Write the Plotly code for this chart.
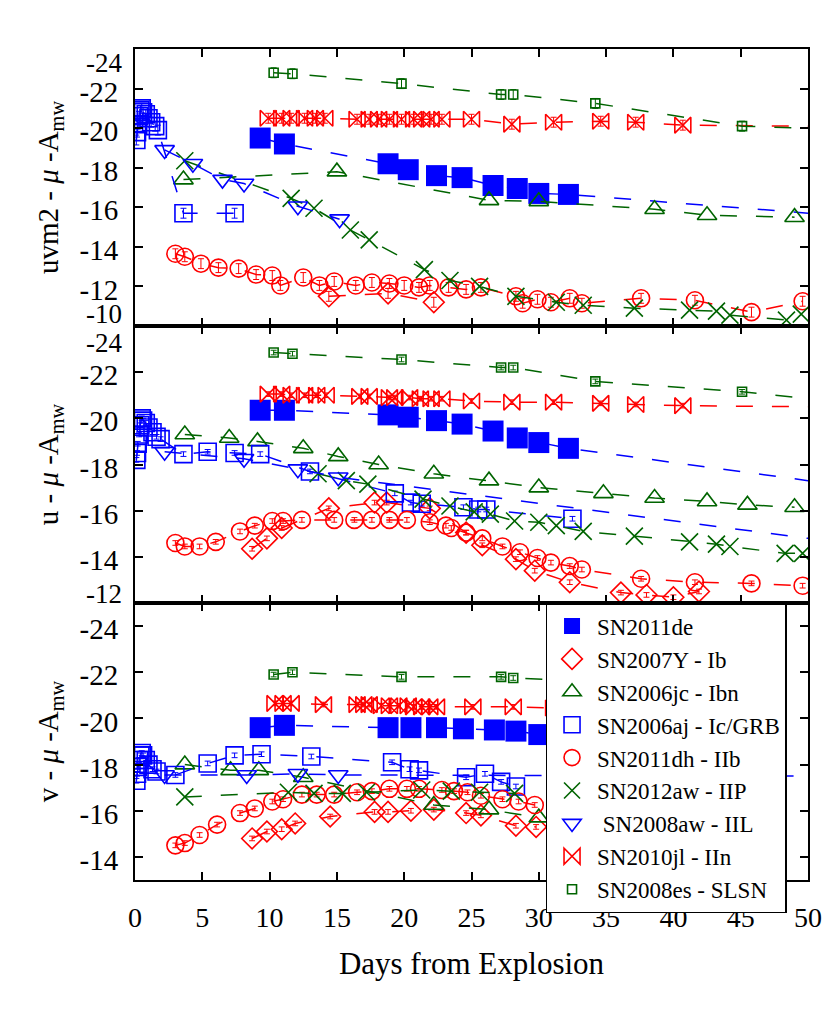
import plotly.graph_objects as go
from plotly.subplots import make_subplots

# ================= DATA =================
# ---- uvm2 band (top panel) ----
de_day_uvm2 = [9.3, 11.1, 18.8, 20.3, 22.4, 24.3, 26.6, 28.4, 30.0, 32.2]
de_mag_uvm2 = [-19.5, -19.2, -18.2, -17.9, -17.6, -17.5, -17.1, -16.95, -16.7, -16.65]
de_extday_uvm2 = [50.0]
de_extmag_uvm2 = [-15.7]

es_day_uvm2 = [10.3, 11.7, 19.8, 27.2, 28.1, 34.2, 45.1]
es_mag_uvm2 = [-22.8, -22.75, -22.25, -21.7, -21.7, -21.25, -20.1]
es_extday_uvm2 = [50.0]
es_extmag_uvm2 = [-20.0]

jl_day_uvm2 = [9.9, 10.9, 11.6, 12.6, 13.4, 14.1, 16.5, 17.4, 18.1, 18.9, 19.8, 20.7,
               21.3, 22.0, 22.8, 25.0, 28.0, 31.1, 34.6, 37.2, 40.7]
jl_mag_uvm2 = [-20.5, -20.5, -20.5, -20.5, -20.5, -20.5, -20.45, -20.45, -20.45, -20.45,
               -20.45, -20.45, -20.45, -20.45, -20.45, -20.45, -20.2, -20.3, -20.35, -20.3, -20.15]
jl_extday_uvm2 = [50.0]
jl_extmag_uvm2 = [-20.1]

jc_day_uvm2 = [3.6, 15.0, 26.3, 30.0, 38.6, 42.5, 49.0]
jc_mag_uvm2 = [-17.4, -17.8, -16.35, -16.3, -15.9, -15.6, -15.5]

aj_day_uvm2 = [0.1, 0.15, 0.2, 0.3, 0.4, 0.5, 0.6, 0.8, 1.0, 1.2, 1.5, 1.7, 3.6, 7.4]
aj_mag_uvm2 = [-19.4, -19.8, -20.2, -20.6, -20.9, -21.0, -20.8, -20.7, -20.5, -20.3, -20.1,
               -19.9, -15.7, -15.7]

aw8_day_uvm2 = [2.2, 4.3, 6.5, 8.1, 12.1, 15.2]
aw8_mag_uvm2 = [-18.9, -18.2, -17.4, -17.2, -16.05, -15.4]

aw12_day_uvm2 = [3.7, 11.6, 13.3, 16.0, 17.4, 21.5, 23.4, 25.6, 28.3, 31.3, 33.3, 37.1,
                 41.2, 43.2, 44.2, 48.4, 49.5]
aw12_mag_uvm2 = [-18.35, -16.45, -15.95, -14.85, -14.35, -12.85, -12.3, -12.0, -11.5,
                 -11.2, -11.05, -10.9, -10.8, -10.75, -10.55, -10.3, -10.6]

dh_day_uvm2 = [3.0, 3.7, 4.9, 6.2, 7.7, 9.0, 10.2, 10.8, 12.5, 13.7, 14.8, 16.4, 17.6, 18.9,
               20.0, 21.1, 21.9, 23.3, 24.6, 25.7, 28.3, 28.8, 29.9, 30.9, 32.3, 33.2, 37.6,
               41.6, 45.8, 49.6]
dh_mag_uvm2 = [-13.65, -13.5, -13.15, -12.95, -12.9, -12.6, -12.55, -12.05, -12.45, -12.05,
               -12.25, -12.05, -12.2, -12.15, -12.05, -11.95, -12.05, -11.95, -11.85, -11.95,
               -11.5, -11.15, -11.35, -11.2, -11.4, -11.15, -11.4, -11.3, -10.7, -11.25]

y7_day_uvm2 = [14.4, 18.8, 22.2]
y7_mag_uvm2 = [-11.5, -11.65, -11.2]

# ---- u band (middle panel) ----
de_day_u = [9.3, 11.1, 18.8, 20.3, 22.4, 24.3, 26.6, 28.4, 30.0, 32.2]
de_mag_u = [-20.35, -20.35, -20.15, -20.05, -19.9, -19.75, -19.45, -19.15, -18.95, -18.7]
de_extday_u = [50.0]
de_extmag_u = [-17.3]

es_day_u = [10.3, 11.7, 19.8, 27.2, 28.1, 34.2, 45.1]
es_mag_u = [-22.85, -22.8, -22.55, -22.2, -22.2, -21.6, -21.15]
es_extday_u = [50.0]
es_extmag_u = [-20.85]

jl_day_u = [9.9, 10.9, 11.6, 12.6, 13.5, 14.2, 16.7, 17.4, 18.9, 19.3, 20.4, 21.2, 22.0,
            22.8, 25.0, 28.0, 31.1, 34.6, 37.2, 40.7]
jl_mag_u = [-21.05, -21.05, -21.0, -21.0, -21.0, -21.0, -20.95, -20.95, -20.9, -20.9, -20.9,
            -20.85, -20.85, -20.85, -20.75, -20.7, -20.7, -20.65, -20.6, -20.55]
jl_extday_u = [50.0]
jl_extmag_u = [-20.5]

jc_day_u = [3.7, 7.0, 9.1, 12.5, 15.1, 18.1, 22.2, 26.3, 30.0, 34.8, 38.6, 42.5, 45.5, 49.0]
jc_mag_u = [-19.3, -19.15, -19.0, -18.7, -18.35, -18.0, -17.6, -17.3, -17.0, -16.75, -16.55,
            -16.4, -16.25, -16.15]

aj_day_u = [0.1, 0.15, 0.2, 0.3, 0.4, 0.5, 0.6, 0.8, 1.0, 1.3, 1.6, 1.9, 3.6, 5.4, 7.4, 9.3,
            13.0, 19.3, 20.5, 21.3, 24.4, 25.5, 26.1, 32.5]
aj_mag_u = [-18.2, -18.5, -18.9, -19.3, -19.7, -20.0, -19.9, -19.8, -19.6, -19.4, -19.2,
            -19.1, -18.45, -18.55, -18.5, -18.45, -17.7, -16.75, -16.35, -16.3, -16.15,
            -16.05, -16.05, -15.65]

aw8_day_u = [2.2, 8.1, 12.1, 15.1]
aw8_mag_u = [-18.55, -18.25, -17.8, -17.45]
aw8_extday_u = [50.0]
aw8_extmag_u = [-14.8]

aw12_day_u = [13.6, 15.7, 17.3, 21.4, 23.4, 25.2, 26.4, 28.2, 30.0, 31.3, 33.3, 37.1, 41.2,
              43.2, 44.2, 48.3, 49.6]
aw12_mag_u = [-17.6, -17.3, -17.15, -16.5, -16.2, -15.95, -15.85, -15.55, -15.5, -15.35,
              -15.1, -14.9, -14.65, -14.55, -14.45, -14.15, -14.15]

dh_day_u = [3.0, 3.7, 4.8, 6.0, 7.8, 8.9, 10.2, 11.0, 12.4, 14.8, 16.3, 17.6, 18.9, 20.2,
            21.9, 23.1, 23.5, 24.6, 25.8, 27.3, 28.6, 29.9, 30.9, 32.3, 33.2, 37.6, 41.6,
            45.8, 49.6]
dh_mag_u = [-14.6, -14.45, -14.45, -14.65, -15.1, -15.35, -15.55, -15.55, -15.6, -15.6,
            -15.6, -15.6, -15.6, -15.6, -15.5, -15.35, -15.25, -15.05, -14.8, -14.45, -14.2,
            -13.95, -13.75, -13.6, -13.45, -13.05, -12.9, -12.85, -12.75]

y7_day_u = [8.7, 9.8, 10.9, 14.4, 17.8, 18.7, 21.9, 24.6, 25.8, 28.3, 29.7, 32.3, 36.1,
            38.0, 40.0, 41.9]
y7_mag_u = [-14.35, -14.8, -15.25, -16.1, -16.35, -16.35, -16.1, -15.05, -14.5, -13.9,
            -13.4, -12.9, -12.45, -12.35, -12.25, -12.5]

# ---- v band (bottom panel) ----
de_day_v = [9.3, 11.1, 18.8, 20.5, 22.4, 24.4, 26.7, 28.3, 30.0, 32.2]
de_mag_v = [-19.6, -19.7, -19.6, -19.6, -19.6, -19.55, -19.5, -19.45, -19.3, -19.2]

es_day_v = [10.3, 11.7, 19.8, 27.2, 28.1, 34.2]
es_mag_v = [-21.9, -22.0, -21.8, -21.8, -21.75, -21.6]

jl_day_v = [10.4, 11.0, 11.6, 14.0, 16.5, 17.0, 17.4, 18.3, 18.9, 19.6, 20.3, 20.7, 21.3,
            21.9, 22.4, 25.1, 28.1, 31.1]
jl_mag_v = [-20.65, -20.65, -20.65, -20.6, -20.6, -20.6, -20.6, -20.55, -20.55, -20.55,
            -20.55, -20.5, -20.5, -20.5, -20.5, -20.5, -20.5, -20.45]

jc_day_v = [3.7, 7.1, 9.2, 12.5, 22.2, 26.3, 30.0]
jc_mag_v = [-18.0, -17.75, -17.75, -17.45, -16.25, -16.05, -15.7]

aj_day_v = [0.1, 0.15, 0.2, 0.3, 0.4, 0.5, 0.6, 0.8, 1.0, 1.3, 1.6, 3.0, 5.4, 7.4, 9.4,
            13.1, 19.1, 20.4, 21.1, 24.6, 26.0, 27.2, 28.3]
aj_mag_v = [-17.3, -17.6, -17.9, -18.2, -18.4, -18.5, -18.4, -18.2, -18.0, -17.8, -17.7,
            -17.55, -18.05, -18.4, -18.45, -18.35, -18.1, -17.8, -17.75, -17.45, -17.6,
            -17.25, -17.05]

aw8_day_v = [2.2, 8.3, 12.1, 15.1]
aw8_mag_v = [-17.55, -17.55, -17.6, -17.55]
aw8_extday_v = [50.0]
aw8_extmag_v = [-17.5]

aw12_day_v = [3.7, 11.4, 13.3, 15.4, 17.2, 21.3, 23.5, 25.6, 28.2]
aw12_mag_v = [-16.6, -16.8, -16.75, -16.75, -16.8, -16.9, -16.85, -16.8, -16.75]

dh_day_v = [3.0, 3.7, 4.8, 6.1, 7.8, 8.9, 10.2, 11.0, 12.4, 13.5, 14.8, 16.5, 17.6, 18.9,
            20.2, 21.1, 22.8, 23.7, 24.7, 25.7, 27.3, 28.5, 29.7]
dh_mag_v = [-14.5, -14.6, -14.95, -15.4, -15.9, -16.1, -16.4, -16.5, -16.7, -16.7, -16.7,
            -16.8, -16.85, -16.95, -16.95, -16.95, -16.9, -16.85, -16.8, -16.65, -16.5,
            -16.4, -16.25]

y7_day_v = [8.7, 9.8, 10.9, 11.9, 14.5, 17.8, 18.8, 20.5, 22.2, 24.6, 25.7, 28.3, 29.8]
y7_mag_v = [-14.8, -15.1, -15.2, -15.45, -15.75, -15.95, -15.95, -16.0, -16.05, -15.9,
            -15.8, -15.35, -15.3]

# ---- axis tick labels ----
x_ticks = [0, 5, 10, 15, 20, 25, 30, 35, 40, 45, 50]
y_ticks_uvm2 = [-24, -22, -20, -18, -16, -14, -12, -10]
y_ticks_u = [-24, -22, -20, -18, -16, -14, -12]
y_ticks_v = [-24, -22, -20, -18, -16, -14]

# ================= STYLE =================
BLUE = "#0000ff"
RED = "#ff0000"
GREEN = "#006400"
FONT = "Liberation Serif"
TICK_SIZE = 29
EDGE_SIZE = 27

series_style = {
    "de":   ("SN2011de", BLUE, "square", 21),
    "y7":   ("SN2007Y - Ib", RED, "diamond-open", 16),
    "jc":   ("SN2006jc - Ibn", GREEN, "triangle-up-open", 17),
    "aj":   ("SN2006aj - Ic/GRB", BLUE, "square-open", 17),
    "dh":   ("SN2011dh - IIb", RED, "circle-open", 17),
    "aw12": ("SN2012aw - IIP", GREEN, "x-thin", 17),
    "aw8":  ("\u00a0SN2008aw - IIL", BLUE, "triangle-down-open", 17),
    "jl":   ("SN2010jl - IIn", RED, "bowtie-open", 16),
    "es":   ("SN2008es - SLSN", GREEN, "square-open", 9),
}
with_err = {"aj", "dh", "es", "jl", "y7"}

bands = [("uvm2", 1), ("u", 2), ("v", 3)]
err_size = {"uvm2": 0.25, "u": 0.1, "v": 0.1}

g = globals()
fig = make_subplots(rows=3, cols=1, shared_xaxes=True, vertical_spacing=0)

for band, row in bands:
    for key, (label, color, symbol, size) in series_style.items():
        dname = f"{key}_day_{band}"
        if dname not in g:
            continue
        days = g[dname]
        mags = g[f"{key}_mag_{band}"]
        ldays = list(days) + list(g.get(f"{key}_extday_{band}", []))
        lmags = list(mags) + list(g.get(f"{key}_extmag_{band}", []))
        fig.add_trace(go.Scatter(
            x=ldays, y=lmags, mode="lines",
            line=dict(color=color, width=1.5, dash="17px,19px"),
            showlegend=False, hoverinfo="skip"), row=row, col=1)
        mk = dict(symbol=symbol, size=size, color=color,
                  line=dict(color=color, width=0 if symbol == "square" else 1.6))
        tr = dict(x=days, y=mags, mode="markers", marker=mk, name=label,
                  legendgroup=key, showlegend=(row == 1))
        if key in with_err:
            tr["error_y"] = dict(type="constant", value=err_size[band], color=color,
                                 thickness=1, width=3)
        fig.add_trace(go.Scatter(**tr), row=row, col=1)

axis_common = dict(showline=True, linecolor="black", linewidth=2, mirror="ticks",
                   ticks="inside", ticklen=8, tickwidth=1.5, tickcolor="black",
                   showgrid=False, zeroline=False)

for row in (1, 2, 3):
    fig.update_xaxes(range=[0, 50], tickvals=x_ticks, showticklabels=(row == 3),
                     row=row, col=1, **axis_common)

fig.update_xaxes(row=3, col=1, tickfont=dict(size=28, family=FONT),
                 ticklabelstandoff=11,
                 title=dict(text="Days from Explosion", font=dict(size=31, family=FONT),
                            standoff=21))

def tick_text(vals, drop):
    return ["" if v in drop else f"-{abs(v)}" for v in vals]

ytitle_font = dict(size=29, family=FONT)
def ytitle(band):
    return f"{band} - <i>\u03bc</i> -A<sub>mw</sub>"

fig.update_yaxes(row=1, col=1, range=[-10, -24], tickvals=y_ticks_uvm2,
                 ticktext=tick_text(y_ticks_uvm2, (-24, -10)),
                 title=dict(text=ytitle("uvm2"), font=ytitle_font, standoff=12),
                 **axis_common)
fig.update_yaxes(row=2, col=1, range=[-12, -24], tickvals=y_ticks_u,
                 ticktext=tick_text(y_ticks_u, (-24, -12)),
                 title=dict(text=ytitle("u"), font=ytitle_font, standoff=12),
                 **axis_common)
fig.update_yaxes(row=3, col=1, range=[-13, -25], tickvals=y_ticks_v,
                 ticktext=tick_text(y_ticks_v, ()),
                 title=dict(text=ytitle("v"), font=ytitle_font, standoff=12),
                 **axis_common)
fig.update_yaxes(tickfont=dict(size=TICK_SIZE, family=FONT), ticklabelstandoff=9,
                 ticklabelshift=-3)

# edge tick labels nudged inward, as in the original
edge_labels = [("y", -24, -14), ("y", -10, 12), ("y2", -24, -17), ("y2", -12, 9)]
for yref, val, shift in edge_labels:
    fig.add_annotation(xref="paper", x=0, xanchor="right", xshift=-11,
                       yref=yref, y=val, yshift=shift, yanchor="middle",
                       text=f"-{abs(val)}", showarrow=False,
                       font=dict(size=EDGE_SIZE, family=FONT, color="black"))

fig.update_layout(
    width=830, height=1014,
    margin=dict(l=127, r=30, t=41, b=142),
    paper_bgcolor="white", plot_bgcolor="white",
    font=dict(family=FONT, color="black"),
    legend=dict(x=0.61, y=0.3333, xanchor="left", yanchor="top",
                bgcolor="white", bordercolor="black", borderwidth=1.5,
                font=dict(size=23, family=FONT, color="black"),
                tracegroupgap=0, itemwidth=40),
    showlegend=True,
)

fig.write_html("out.html")
